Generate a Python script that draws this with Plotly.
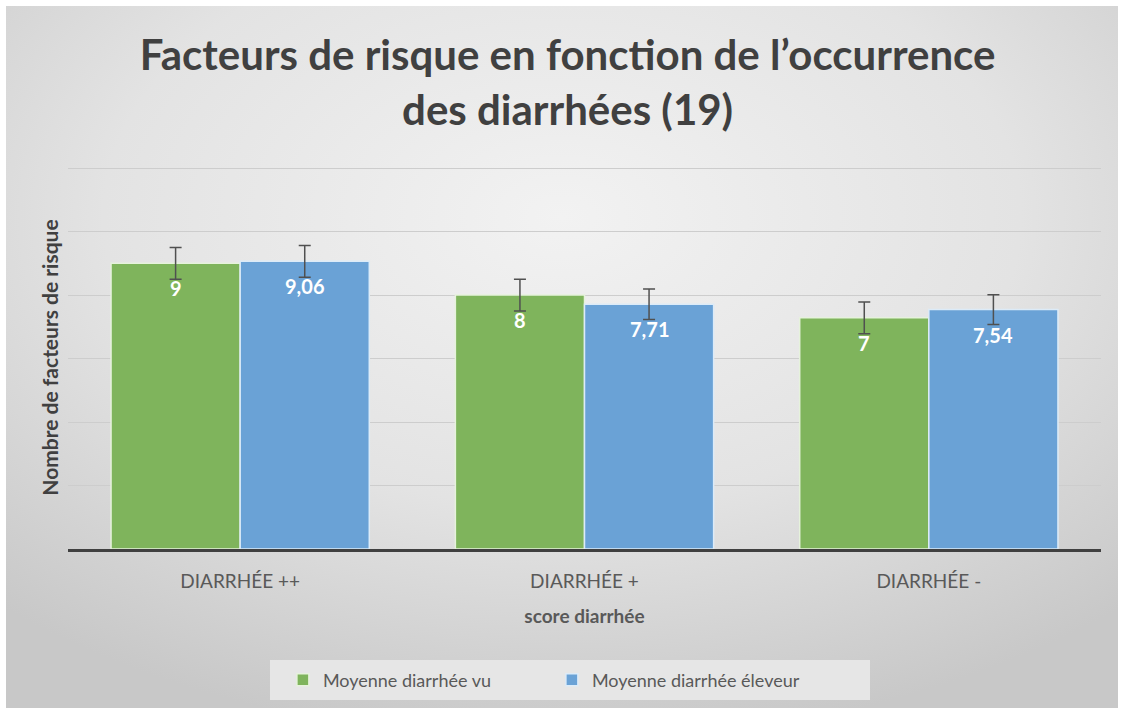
import base64
import plotly.graph_objects as go

categories = ["DIARRHÉE ++", "DIARRHÉE +", "DIARRHÉE -"]
vu_values = [9.0, 8.0, 7.28]
vu_labels = ["9", "8", "7"]
vu_errors = [0.5, 0.5, 0.5]
eleveur_values = [9.06, 7.71, 7.54]
eleveur_labels = ["9,06", "7,71", "7,54"]
eleveur_errors = [0.5, 0.48, 0.47]

W, H = 1124, 713
L, R, T, B = 68, 23, 166, 164
pw, ph = W - L - R, H - T - B
YMAX = 12 + 2 / 31.7

FONT = "Lato"
GREEN = "#7fb45c"
BLUE = "#6aa2d6"
TXT = "#595959"

svg = '''<svg xmlns="http://www.w3.org/2000/svg" width="1112" height="702" viewBox="0 0 1112 702" preserveAspectRatio="none">
<defs><radialGradient id="g" cx="0.5" cy="0.3" r="0.75" fx="0.5" fy="0.3">
<stop offset="0" stop-color="#f2f2f2"/><stop offset="0.55" stop-color="#e3e3e3"/><stop offset="1" stop-color="#c8c8c8"/>
</radialGradient></defs><rect width="1112" height="702" fill="url(#g)"/></svg>'''
src = "data:image/svg+xml;base64," + base64.b64encode(svg.encode()).decode()

fig = go.Figure()
fig.add_trace(go.Bar(
    name="Moyenne diarrhée vu", x=categories, y=vu_values,
    marker=dict(color=GREEN, line=dict(color="#e6f2dc", width=1.5)),
    error_y=dict(type="data", array=vu_errors, color="#505050", thickness=1.5, width=6),
))
fig.add_trace(go.Bar(
    name="Moyenne diarrhée éleveur", x=categories, y=eleveur_values,
    marker=dict(color=BLUE, line=dict(color="#dcebf8", width=1.5)),
    error_y=dict(type="data", array=eleveur_errors, color="#505050", thickness=1.5, width=6),
))

half = pw / 3 * 0.75 / 4
for vals, labs, shift in ((vu_values, vu_labels, -half), (eleveur_values, eleveur_labels, half)):
    for c, v, t in zip(categories, vals, labs):
        fig.add_annotation(
            x=c, y=v, xref="x", yref="y", text=t, showarrow=False,
            xshift=shift, yshift=-25, yanchor="middle",
            font=dict(family=FONT, size=20, color="white", weight="bold"),
        )

fig.add_layout_image(dict(
    source=src, xref="paper", yref="paper",
    x=(6 - L) / pw, y=1 + (T - 6) / ph,
    sizex=1112 / pw, sizey=702 / ph,
    xanchor="left", yanchor="top", sizing="stretch", layer="below",
))

# legend background box
fig.add_shape(
    type="rect", xref="paper", yref="paper", layer="below",
    x0=(270 - L) / pw, x1=(870 - L) / pw,
    y0=(H - B - 700) / ph, y1=(H - B - 660) / ph,
    fillcolor="#e6e6e6", line=dict(width=0),
)

fig.update_layout(
    width=W, height=H,
    margin=dict(l=L, r=R, t=T, b=B),
    paper_bgcolor="white", plot_bgcolor="rgba(0,0,0,0)",
    font=dict(family=FONT, color=TXT),
    title=dict(
        text="Facteurs de risque en fonction de l’occurrence<br>des diarrhées (19)",
        x=0.505, xanchor="center", xref="container",
        y=1 - 70 / H, yanchor="middle", yref="container",
        font=dict(family=FONT, size=42, color="#404040", weight="bold"),
    ),
    barmode="group", bargap=0.25, bargroupgap=0,
    showlegend=True,
    legend=dict(
        orientation="h", xref="container", yref="container",
        x=0.491, xanchor="center", y=33 / H, yanchor="middle",
        bgcolor="rgba(0,0,0,0)", borderwidth=0,
        font=dict(family=FONT, size=18, color=TXT),
        entrywidth=224, entrywidthmode="pixels", itemwidth=30,
    ),
    xaxis=dict(
        title=dict(text="score diarrhée", font=dict(family=FONT, size=19, color=TXT, weight="bold"), standoff=19),
        tickfont=dict(family=FONT, size=19, color=TXT),
        showline=True, linecolor="#404040", linewidth=3,
        ticks="", ticklabelstandoff=13,
    ),
    yaxis=dict(
        title=dict(text="Nombre de facteurs de risque", font=dict(family=FONT, size=21, color="#404040", weight="bold"), standoff=2),
        range=[0, YMAX], dtick=2, showticklabels=False,
        showgrid=True, gridcolor="#cdcdcd", gridwidth=1,
        zeroline=False, showline=False,
    ),
)

fig.write_html("out.html", config={"displayModeBar": False},
               post_script="document.body.style.margin='0';")
